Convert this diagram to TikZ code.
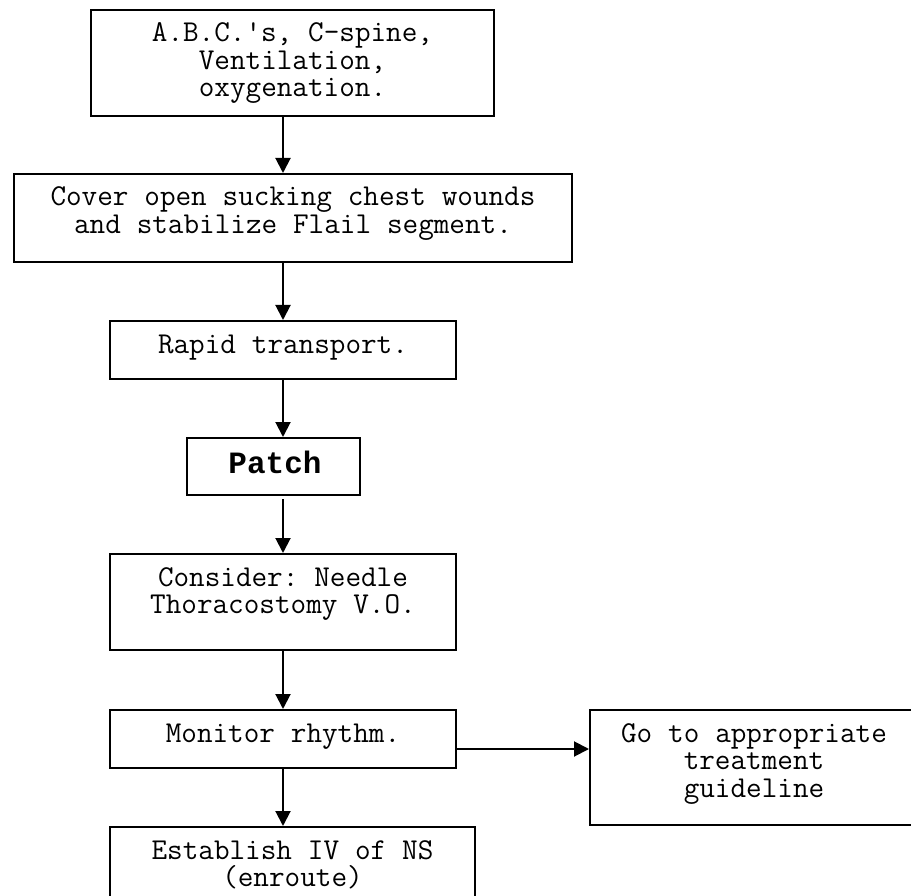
\documentclass[tikz,border=0pt]{standalone}
\usepackage{fontspec}
\newfontfamily\flowbold{Liberation Mono}
\usetikzlibrary{arrows.meta,calc}
\begin{document}
\begin{tikzpicture}[x=1pt,y=-1pt,
  box/.style={draw, line width=2pt, rectangle, inner sep=0pt, anchor=north west},
  txt/.style={font=\ttfamily\fontsize{30.3}{27.5}\selectfont, text width=600pt,
              execute at begin node={\centering\frenchspacing
                \spaceskip=0.525em\relax\xspaceskip=0.525em\relax},
              anchor=base, inner sep=0pt},
  boldtxt/.style={font=\flowbold\bfseries\fontsize{31}{32}\selectfont,
              anchor=base, inner sep=0pt},
  flow/.style={line width=2pt, -{Triangle[length=15pt,width=15pt]}}]

% page area
\useasboundingbox (0,0) rectangle (911,896);
\fill[white] (0,0) rectangle (911,896);
\clip (0,0) rectangle (911,896);

% boxes
\node[box, minimum width=403pt, minimum height=106pt] (abc) at (90,9) {};
\node[box, minimum width=558pt, minimum height=88pt]  (cov) at (13,173) {};
\node[box, minimum width=346pt, minimum height=58pt]  (rap) at (109,320) {};
\node[box, minimum width=173pt, minimum height=57pt]  (pat) at (186,437) {};
\node[box, minimum width=346pt, minimum height=96pt]  (con) at (109,553) {};
\node[box, minimum width=346pt, minimum height=58pt]  (mon) at (109,709) {};
\node[box, minimum width=328pt, minimum height=115pt] (go)  at (589,709) {};
\node[box, minimum width=365pt, minimum height=90pt]  (est) at (109,826) {};

% box texts (first baseline below the top edge)
\node[txt] (abct) at ($(abc.north)+(0,33)$) {A.B.C.'s, C-spine,\\Ventilation,\\oxygenation.};
\node[txt] (covt) at ($(cov.north)+(0,33)$) {Cover open sucking chest wounds\\and stabilize Flail segment.};
\node[txt] (rapt) at ($(rap.north)+(0,33)$) {Rapid transport.};
\node[boldtxt] (patt) at ($(pat.north)+(1.5,36)$) {Patch};
\node[txt] (cont) at ($(con.north)+(0,33)$) {Consider: Needle\\Thoracostomy V.O.};
\node[txt] (mont) at ($(mon.north)+(0,33)$) {Monitor rhythm.};
\node[txt] (got)  at ($(go.north)+(0,33)$)  {Go to appropriate\\treatment\\guideline};
\node[txt] (estt) at ($(est.north)+(0,33)$) {Establish IV of NS\\(enroute)};

% connectors
\draw[flow] (abc.south -| rap.north) -- (cov.north -| rap.north);
\draw[flow] (cov.south -| rap.north) -- (rap.north);
\draw[flow] (rap.south) -- (pat.north -| rap.north);
\draw[flow] ($(pat.south -| rap.north)+(0,3)$) -- (con.north);
\draw[flow] (con.south) -- (mon.north);
\draw[flow] (mon.south) -- (est.north -| mon.south);
\coordinate (mr) at ($(mon.east)+(0,10)$);
\draw[flow] (mr) -- (mr -| go.west);
\end{tikzpicture}
\end{document}
